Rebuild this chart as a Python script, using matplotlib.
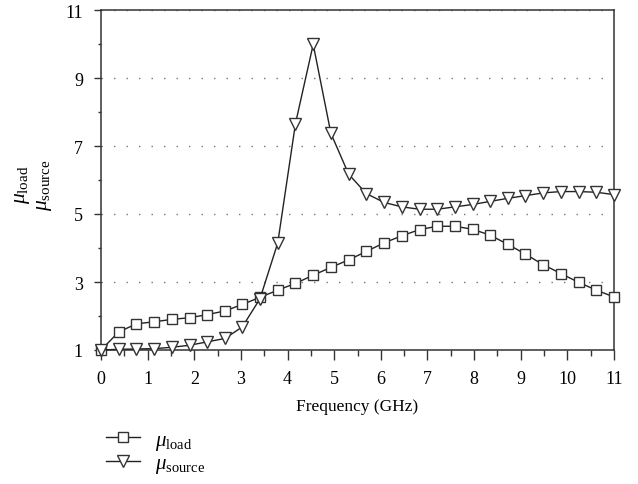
import matplotlib
matplotlib.use("Agg")
import matplotlib.pyplot as plt

plt.rcParams['font.family'] = ['Liberation Serif', 'DejaVu Serif']
plt.rcParams['mathtext.fontset'] = 'custom'
plt.rcParams['mathtext.rm'] = 'Liberation Serif'
plt.rcParams['mathtext.it'] = 'Liberation Serif:italic'

freq = [0.00, 0.38, 0.76, 1.14, 1.52, 1.90, 2.28, 2.66, 3.03, 3.41,
        3.79, 4.17, 4.55, 4.93, 5.31, 5.69, 6.07, 6.45, 6.83, 7.21,
        7.59, 7.97, 8.34, 8.72, 9.10, 9.48, 9.86, 10.24, 10.62, 11.00]
mu_load = [1.00, 1.53, 1.77, 1.83, 1.90, 1.95, 2.04, 2.15, 2.34, 2.55,
           2.76, 2.96, 3.20, 3.43, 3.65, 3.90, 4.15, 4.36, 4.54, 4.64,
           4.64, 4.55, 4.38, 4.11, 3.82, 3.51, 3.25, 2.99, 2.76, 2.56]
mu_source = [1.00, 1.02, 1.03, 1.04, 1.08, 1.14, 1.24, 1.34, 1.68, 2.51,
             4.15, 7.66, 9.99, 7.37, 6.17, 5.60, 5.34, 5.21, 5.14, 5.14,
             5.21, 5.28, 5.37, 5.46, 5.54, 5.62, 5.66, 5.66, 5.64, 5.57]
x_ticks = [0, 1, 2, 3, 4, 5, 6, 7, 8, 9, 10, 11]
x_minor = [0.5, 1.5, 2.5, 3.5, 4.5, 5.5, 6.5, 7.5, 8.5, 9.5, 10.5]
y_ticks = [1, 3, 5, 7, 9, 11]
y_minor = [2, 4, 6, 8, 10]
labels = [r'$\mu_{\mathrm{load}}$', r'$\mu_{\mathrm{source}}$']

fig = plt.figure(figsize=(6.38, 4.85), dpi=100)
ax = fig.add_axes([101/638, 1-351/485, (614-101)/638, (351-11)/485])

lc = '#222222'
l1, = ax.plot(freq, mu_load, color=lc, lw=1.0, marker='s', ms=7.5,
              mfc='white', mec='#333333', mew=1.0, label=labels[0],
              clip_on=False, zorder=3)
l2, = ax.plot(freq, mu_source, color=lc, lw=1.0, marker='v', ms=8.5,
              mfc='white', mec='#333333', mew=1.0, label=labels[1],
              clip_on=False, zorder=4)

ax.set_xlim(0, 11)
ax.set_ylim(1, 11)
ax.set_xticks(x_ticks)
ax.set_xticks(x_minor, minor=True)
ax.set_yticks(y_ticks)
ax.set_yticks(y_minor, minor=True)
ax.tick_params(which='both', direction='out', width=1, color='#333333')
ax.tick_params(axis='x', which='major', length=7, pad=7.5, labelsize=13)
ax.tick_params(axis='x', which='minor', length=4.3)
ax.tick_params(axis='y', which='major', length=5, pad=8, labelsize=13)
ax.tick_params(axis='y', which='minor', length=2)
ax.grid(axis='y', which='major', color='#777777', lw=1.0, linestyle=(0, (1, 8)))
for s in ax.spines.values():
    s.set_color('#333333')
    s.set_linewidth(1.1)

ax.set_xlabel('Frequency (GHz)', fontsize=12.5, labelpad=8)
fig.text(22/638, 1-185/485, labels[0], rotation=90, fontsize=15.5,
         ha='center', va='center')
fig.text(45/638, 1-185/485, labels[1], rotation=90, fontsize=15.5,
         ha='center', va='center')

fig.legend(handles=[l1, l2], loc='upper left',
           bbox_to_anchor=(106/638, 1-431/485), frameon=False,
           fontsize=15, handlelength=1.65, handletextpad=0.7,
           labelspacing=0.1, borderaxespad=0, borderpad=0)

fig.savefig('out.png', dpi=100)
